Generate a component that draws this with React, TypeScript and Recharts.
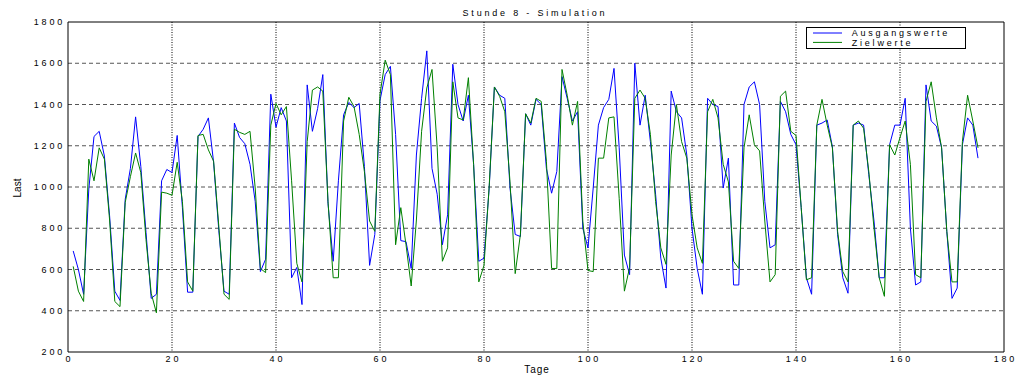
import {
  CartesianGrid,
  Legend,
  Line,
  LineChart,
  ReferenceLine,
  XAxis,
  YAxis
} from "recharts";

// Stunde 8: simulated output vs. target load, one value per day
const ausgangswerte = [
  690, 600, 480, 990, 1245, 1270, 1150, 860, 495, 450,
  940, 1090, 1340, 1100, 780, 460, 480, 1030, 1085, 1070,
  1250, 900, 490, 490, 1245, 1280, 1335, 1120, 790, 495,
  480, 1310, 1240, 1210, 1110, 930, 590, 650, 1450, 1290,
  1385, 1320, 560, 610, 430, 1495, 1270, 1380, 1545, 920,
  640, 1030, 1350, 1410, 1385, 1405, 1100, 620, 770, 1420,
  1545, 1585, 1255, 740, 735, 605, 1155, 1430, 1660, 1090,
  965, 720, 865, 1595, 1400, 1320, 1445, 1110, 640, 655,
  995, 1485, 1445, 1430, 995, 770, 760, 1355, 1300, 1425,
  1400, 1090, 970, 1075, 1535, 1430, 1320, 1365, 800, 705,
  995, 1300, 1385, 1425, 1575, 1190, 670, 575, 1600, 1300,
  1445, 1220, 965, 655, 510, 1465, 1365, 1335, 1155, 800,
  605, 480, 1430, 1400, 1390, 995, 1140, 525, 525, 1400,
  1485, 1510, 1400, 930, 705, 720, 1415, 1365, 1255, 1205,
  900, 560, 480, 1300, 1310, 1325, 1195, 770, 560, 485,
  1300, 1310, 1300, 1060, 835, 560, 560, 1205, 1300, 1300,
  1430, 800, 525, 540, 1495, 1320, 1295, 1190, 785, 460,
  510, 1205, 1335, 1300, 1140
];

const zielwerte = [
  615, 495, 445, 1135, 1030, 1190, 1135, 840, 445, 420,
  925, 1050, 1165, 1070, 745, 485, 390, 975, 970, 960,
  1120, 930, 540, 495, 1250, 1255, 1180, 1125, 810, 480,
  455, 1280, 1265, 1255, 1270, 995, 605, 585, 1300, 1405,
  1350, 1390, 1030, 630, 540, 1220, 1470, 1485, 1465, 930,
  560, 560, 1320, 1435, 1390, 1255, 1075, 835, 785, 1450,
  1615, 1545, 720, 900, 720, 520, 840, 1270, 1480, 1570,
  1190, 640, 705, 1510, 1335, 1325, 1530, 1110, 540, 620,
  1005, 1485, 1440, 1365, 1025, 580, 770, 1355, 1310, 1430,
  1415, 1125, 605, 605, 1570, 1445, 1300, 1415, 835, 595,
  590, 1140, 1140, 1335, 1340, 945, 495, 610, 1430, 1470,
  1430, 1255, 930, 705, 625, 1155, 1400, 1220, 1140, 865,
  705, 630, 1365, 1425, 1335, 1110, 1025, 640, 605, 1190,
  1350, 1205, 1175, 835, 540, 575, 1440, 1465, 1270, 1250,
  900, 550, 560, 1300, 1425, 1300, 1190, 785, 590, 540,
  1300, 1320, 1285, 1075, 800, 560, 470, 1205, 1155, 1240,
  1320, 1110, 575, 560, 1415, 1510, 1335, 1190, 785, 540,
  540, 1220, 1445, 1320, 1190
];

const xTicks = [0, 20, 40, 60, 80, 100, 120, 140, 160, 180];
const yTicks = [200, 400, 600, 800, 1000, 1200, 1400, 1600, 1800];
const xGrid = [20, 40, 60, 80, 100, 120, 140, 160];
const yGrid = [400, 600, 800, 1000, 1200, 1400, 1600];

const chartData = ausgangswerte.map((value, i) => ({
  tag: i + 1,
  ausgang: value,
  ziel: zielwerte[i]
}));

const BLUE = "#0000ff";
const GREEN = "#008000";

const smallFont = {
  fontFamily: "'Liberation Sans', Arial, sans-serif",
  fontSize: 9,
  letterSpacing: 2.8,
  fill: "#000"
};

function XTick(props: any) {
  const { x, y, payload } = props;
  return (
    <text x={x + 1.4} y={y + 6.5} textAnchor="middle" style={smallFont}>
      {payload.value}
    </text>
  );
}

function YTick(props: any) {
  const { x, y, payload } = props;
  return (
    <text x={x} y={y + 3.2} textAnchor="end" style={smallFont}>
      {payload.value}
    </text>
  );
}

function LegendBox() {
  return (
    <div
      style={{
        width: 160,
        height: 22,
        border: "1px solid #000",
        background: "#fff",
        boxSizing: "border-box"
      }}
    >
      <svg width={158} height={20} style={{ display: "block" }}>
        <line x1={6} x2={35} y1={5} y2={5} stroke={BLUE} strokeWidth={1} />
        <text x={44.7} y={8.4} style={smallFont}>Ausgangswerte</text>
        <line x1={6} x2={35} y1={14.4} y2={14.4} stroke={GREEN} strokeWidth={1} />
        <text x={44.7} y={17.7} style={smallFont}>Zielwerte</text>
      </svg>
    </div>
  );
}

export default function App() {
  return (
    <div style={{ position: "absolute", left: 0, top: 0, width: 1019, height: 376 }}>
      <LineChart
        width={1019}
        height={376}
        data={chartData}
        margin={{ top: 22, right: 15, bottom: 4, left: 8 }}
      >
        <CartesianGrid
          vertical={false}
          horizontalValues={yGrid}
          stroke="#555"
          strokeDasharray="4 3"
        />
        <CartesianGrid
          horizontal={false}
          verticalValues={xGrid}
          stroke="#000"
          strokeDasharray="1 1.5"
        />
        <XAxis
          dataKey="tag"
          type="number"
          domain={[0, 180]}
          ticks={xTicks}
          interval={0}
          height={20}
          tickLine={false}
          tickSize={3}
          tickMargin={0}
          stroke="#000"
          tick={<XTick />}
        />
        <YAxis
          type="number"
          domain={[200, 1800]}
          ticks={yTicks}
          interval={0}
          width={60}
          tickLine={false}
          tickSize={3}
          tickMargin={0}
          stroke="#000"
          tick={<YTick />}
        />
        <ReferenceLine y={1800} stroke="#000" />
        <ReferenceLine x={180} stroke="#000" />
        <Legend
          layout="horizontal"
          align="center"
          verticalAlign="middle"
          wrapperStyle={{ left: 806, top: 27, width: 160, height: 22 }}
          content={<LegendBox />}
        />
        <Line
          dataKey="ausgang"
          name="Ausgangswerte"
          type="linear"
          stroke={BLUE}
          strokeWidth={1}
          dot={false}
          isAnimationActive={false}
        />
        <Line
          dataKey="ziel"
          name="Zielwerte"
          type="linear"
          stroke={GREEN}
          strokeWidth={1}
          dot={false}
          isAnimationActive={false}
        />
      </LineChart>
      <svg
        width={1019}
        height={376}
        style={{ position: "absolute", left: 0, top: 0, pointerEvents: "none" }}
      >
        <text x={535} y={16} textAnchor="middle" style={smallFont}>
          Stunde 8 - Simulation
        </text>
        <text
          x={537}
          y={373}
          textAnchor="middle"
          style={{ ...smallFont, fontSize: 10, letterSpacing: 1 }}
        >
          Tage
        </text>
        <text
          transform="translate(21, 188) rotate(-90)"
          textAnchor="middle"
          style={{ ...smallFont, fontSize: 10, letterSpacing: 0 }}
        >
          Last
        </text>
      </svg>
    </div>
  );
}
